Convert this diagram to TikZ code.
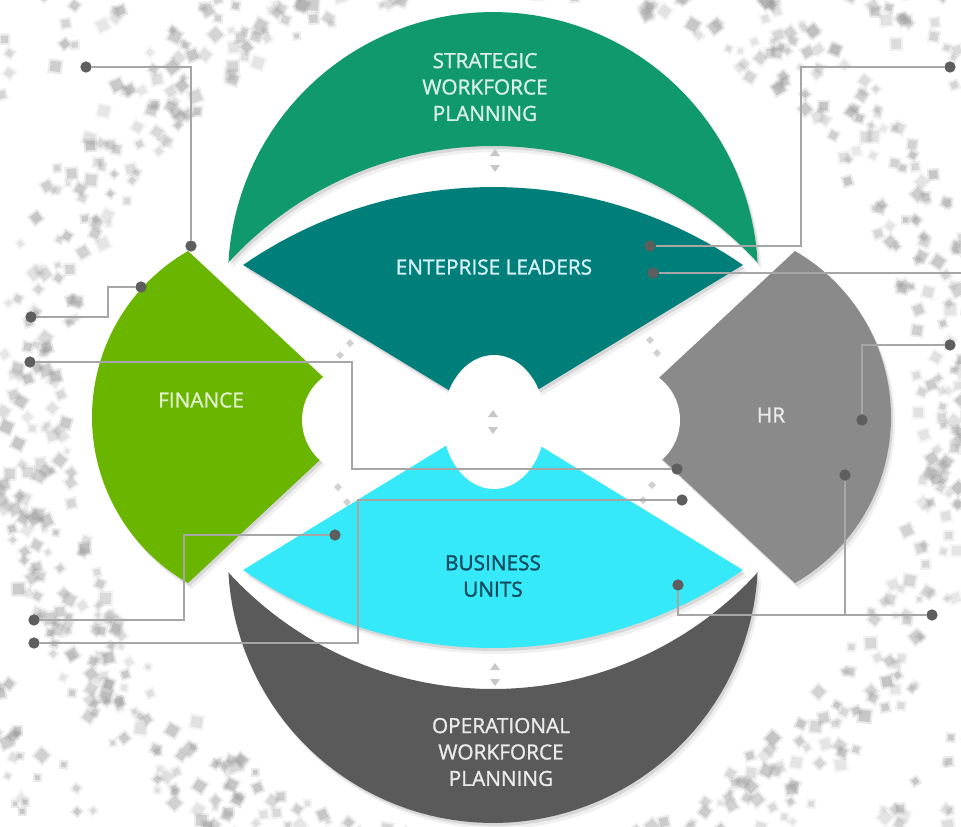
\documentclass[tikz,border=0pt]{standalone}
\usepackage{fontspec}
\setmainfont{Open Sans}
\newfontfamily\lblfont[FakeBold=1.2]{Open Sans}
\usetikzlibrary{calc}
\definecolor{sgreen}{HTML}{11996E}
\definecolor{tealc}{HTML}{007F7A}
\definecolor{fgreen}{HTML}{6AB500}
\definecolor{hrgray}{HTML}{8A8A8A}
\definecolor{bcyan}{HTML}{35E9F9}
\definecolor{ogray}{HTML}{5A5A5A}
\definecolor{linegray}{HTML}{A6A6A6}
\definecolor{dotgray}{HTML}{5E5E5E}
\definecolor{btext}{HTML}{0E4A5C}
\newcommand{\shpS}{plot[domain=183.03:356.97,samples=70] ({493+265*cos(\x)},{277+265*sin(\x)}) -- plot[domain=317.64:222.36,samples=70] ({493+358.6*cos(\x)},{504.6+358.6*sin(\x)}) -- cycle}
\newcommand{\shpO}{plot[domain=3.03:176.97,samples=70] ({493+265*cos(\x)},{558+265*sin(\x)}) -- plot[domain=137.64:42.36,samples=70] ({493+358.6*cos(\x)},{330.4+358.6*sin(\x)}) -- cycle}
\newcommand{\shpE}{plot[domain=235.35:304.65,samples=50] ({493+439.6*cos(\x)},{626.6+439.6*sin(\x)}) -- (493,417) -- cycle}
\newcommand{\shpB}{plot[domain=55.35:124.65,samples=50] ({493+439.6*cos(\x)},{208.4+439.6*sin(\x)}) -- (493,417) -- cycle}
\newcommand{\shpF}{plot[domain=240.1:119.9,samples=60] ({283.5+191.5*cos(\x)},{417+191.5*sin(\x)}) -- (366,417) -- cycle}
\newcommand{\shpH}{plot[domain=-60.1:60.1,samples=60] ({699.5+191.5*cos(\x)},{417+191.5*sin(\x)}) -- (617,417) -- cycle}
\newcommand{\uparr}[1]{\fill[black!22] ($(#1)+(-5,3)$) -- ($(#1)+(5,3)$) -- ($(#1)+(0,-4)$) -- cycle;}
\newcommand{\dnarr}[1]{\fill[black!22] ($(#1)+(-5,-3)$) -- ($(#1)+(5,-3)$) -- ($(#1)+(0,4)$) -- cycle;}
\newcommand{\tinyd}[1]{\fill[black!18] ($(#1)+(-4,0)$) -- ($(#1)+(0,-4)$) -- ($(#1)+(4,0)$) -- ($(#1)+(0,4)$) -- cycle;}
\newcommand{\specks}[4]{% count, rmin, rrange, seed
  \pgfmathsetseed{#4}
  \foreach \i in {1,...,#1}{
    \pgfmathsetmacro{\a}{360*rnd}
    \pgfmathsetmacro{\r}{#2+#3*rnd}
    \pgfmathsetmacro{\s}{3+5*rnd}
    \pgfmathsetmacro{\o}{0.15+0.3*rnd}
    \pgfmathsetmacro{\t}{90*rnd}
    \fill[black!40,opacity=\o*0.5] ($(493,417)+(\a:\r)$) +(\t:\s+3) -- +(\t+90:\s+3) -- +(\t+180:\s+3) -- +(\t+270:\s+3) -- cycle;
    \fill[black!40,opacity=\o] ($(493,417)+(\a:\r)$) +(\t:\s) -- +(\t+90:\s) -- +(\t+180:\s) -- +(\t+270:\s) -- cycle;
  }}
\tikzset{
  dotn/.style={circle,fill=dotgray,inner sep=0pt,minimum size=8.5pt},
  conn/.style={draw=linegray,line width=1.1pt},
  lbl/.style={align=center,font=\lblfont\fontsize{15.6}{19.8}\selectfont,inner sep=0pt},
  shad/.style={fill=black,opacity=#1}
}
\begin{document}
\begin{tikzpicture}[x=0.75pt,y=-0.75pt]
\useasboundingbox (0,0) rectangle (961,826);
\fill[white] (0,0) rectangle (961,826);
% speckled background rings
\begin{scope}
\clip (0,0) rectangle (961,826);
\specks{900}{425}{80}{4}
\specks{500}{548}{70}{9}
\end{scope}
% shadows
\foreach \dx/\dy/\op in {2/3/0.10,4/6/0.06}{
  \begin{scope}[shift={(\dx,\dy)}]
    \fill[shad=\op] \shpS; \fill[shad=\op] \shpO; \fill[shad=\op] \shpE;
    \fill[shad=\op] \shpB; \fill[shad=\op] \shpF; \fill[shad=\op] \shpH;
  \end{scope}
}
% shapes
\fill[sgreen] \shpS;
\fill[ogray] \shpO;
\fill[tealc] \shpE;
\fill[bcyan] \shpB;
\fill[fgreen] \shpF;
\fill[hrgray] \shpH;
% white cut-outs
\fill[white] (494,422) ellipse[x radius=51,y radius=67];
\fill[white] (356,420) circle[radius=54];
\fill[white] (627,420) circle[radius=53];
% small arrow glyphs
\uparr{495,153} \dnarr{495,168}
\uparr{493,414} \dnarr{493,430}
\uparr{495,667} \dnarr{495,682}
\tinyd{350,343} \tinyd{340,355} \tinyd{338,487} \tinyd{347,502}
\tinyd{650,340} \tinyd{657,353} \tinyd{652,485} \tinyd{643,500}
% labels
\node[lbl,text=white!85!sgreen] (tS) at (485,87) {STRATEGIC\\WORKFORCE\\PLANNING};
\node[lbl,text=white!85!cyan] (tE) at (494,267) {ENTEPRISE LEADERS};
\node[lbl,text=white!80!fgreen] (tF) at (201,400) {FINANCE};
\node[lbl,text=white!92!black] (tH) at (771,415) {HR};
\node[lbl,text=btext] (tB) at (493,576) {BUSINESS\\UNITS};
\node[lbl,text=white!92!black] (tO) at (501,752) {OPERATIONAL\\WORKFORCE\\PLANNING};
% connector dots
\node[dotn] (a1) at (86,67) {};
\node[dotn] (a2) at (191,246) {};
\node[dotn] (b1) at (31,317) {};
\node[dotn] (b2) at (141,287) {};
\node[dotn] (c1) at (30,362) {};
\node[dotn] (c2) at (677,469) {};
\node[dotn] (d1) at (34,620) {};
\node[dotn] (d2) at (335,535) {};
\node[dotn] (e1) at (34,643) {};
\node[dotn] (e2) at (682,500) {};
\node[dotn] (f1) at (950,67) {};
\node[dotn] (f2) at (650,246) {};
\coordinate (g1) at (961,273);
\node[dotn] (g2) at (653,273) {};
\node[dotn] (h1) at (950,345) {};
\node[dotn] (h2) at (862,420) {};
\node[dotn] (i1) at (932,615) {};
\node[dotn] (i2) at (845,475) {};
\node[dotn] (i3) at (678,585) {};
% connectors
\draw[conn] (a1) -| (a2);
\draw[conn] (b1) -- ++(77,0) |- (b2);
\draw[conn] (c1) -- ++(322,0) |- (c2);
\draw[conn] (d1) -- ++(150,0) |- (d2);
\draw[conn] (e1) -- ++(324,0) |- (e2);
\draw[conn] (f1) -- ++(-149,0) |- (f2);
\draw[conn] (g1) -- (g2);
\draw[conn] (h1) -| (h2);
\draw[conn] (i1) -| (i2);
\draw[conn] (i1) -| (i3);
\end{tikzpicture}
\end{document}
